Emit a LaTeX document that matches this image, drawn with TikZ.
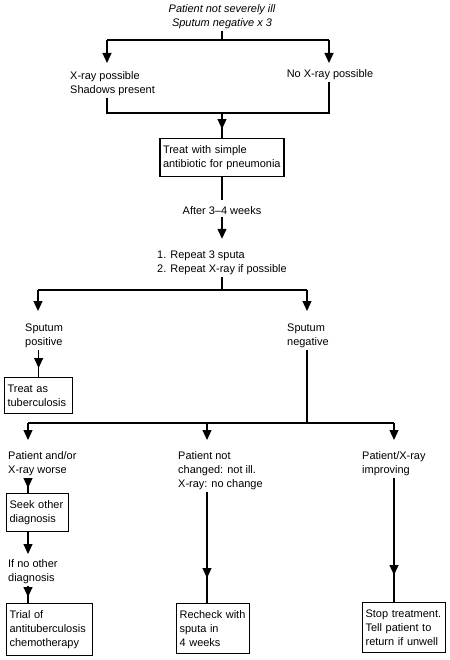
\documentclass[tikz,border=0pt]{standalone}
\usepackage{fontspec}
\setmainfont{Liberation Sans}
\usetikzlibrary{arrows.meta,positioning,calc,decorations.markings}
\tikzset{
  font=\fontsize{11}{14}\selectfont,
  lbl/.style={
    align=left,
    inner sep=2bp
  },
  box/.style={
    draw,
    line width=1.2bp,
    align=left,
    inner xsep=3bp,
    inner ysep=7bp
  },
  line/.style={line width=1.2bp},
  arrow/.style={line, -{Triangle[width=9bp,length=10bp]}},
  midarrow/.style={
    line,
    postaction={decorate},
    decoration={markings,
      mark=at position -#1 with {\arrow{Triangle[width=9bp,length=10bp]}}}
  }
}

\begin{document}
\begin{tikzpicture}[x=1bp, y=1bp]
\useasboundingbox (0,0) rectangle (450,-660);

% junctions of the tree
\coordinate (j1) at (222,-40);
\coordinate (j1l) at (107,-40);
\coordinate (j1r) at (329,-40);
\coordinate (j2) at (222,-113);
\coordinate (j2l) at (107,-113);
\coordinate (j2r) at (329,-113);
\coordinate (j3) at (222,-290);
\coordinate (j3l) at (38,-290);
\coordinate (j3r) at (307,-290);
\coordinate (j4) at (307,-423);
\coordinate (j4l) at (28,-423);
\coordinate (j4m) at (207,-423);
\coordinate (j4r) at (394,-423);

% first step
\node[lbl, align=center, font=\fontsize{11}{14}\selectfont\itshape, anchor=north] (start) at (222,-2) {Patient not severely ill\\Sputum negative x 3};
\node[lbl, anchor=north west] (xr) at (68,-69) {X-ray possible\\Shadows present};
\node[lbl, anchor=north] (nx) at (330,-67) {No X-ray possible};

\node[box, text width=118bp, below=25bp of j2] (treat) {Treat with simple\\antibiotic for pneumonia};
\node[lbl, below=27bp of treat] (after) {After 3--4 weeks};
\node[lbl, below=32bp of after] (rep) {1. Repeat 3 sputa\\2. Repeat X-ray if possible};

% sputum result
\node[lbl, anchor=north west] (spos) at (23,-322) {Sputum\\positive};
\node[lbl, anchor=north west] (sneg) at (285,-322) {Sputum\\negative};
\node[box, text width=62bp, anchor=north west] (tb) at (4,-377) {Treat as\\tuberculosis};

% negative sputum outcomes
\node[lbl, anchor=north west] (worse) at (6,-449) {Patient and/or\\X-ray worse};
\node[lbl, anchor=north west] (same) at (176,-449) {Patient not\\changed: not ill.\\X-ray: no change};
\node[lbl, anchor=north west] (impr) at (360,-449) {Patient/X-ray\\improving};

\node[box, text width=56bp, anchor=north west] (seek) at (6,-493) {Seek other\\diagnosis};
\node[lbl, anchor=north west] (noother) at (6,-557) {If no other\\diagnosis};
\node[box, text width=80bp, anchor=north west] (trial) at (6,-603) {Trial of\\antituberculosis\\chemotherapy};
\node[box, text width=67bp, anchor=north west] (recheck) at (176,-603) {Recheck with\\sputa in\\4 weeks};
\node[box, text width=77bp, anchor=north west] (stop) at (362,-602) {Stop treatment.\\Tell patient to\\return if unwell};

% Connections
\draw[line] (start) -- (j1);
\draw[line] (j1l) -- (j1r);
\draw[arrow, shorten >=6bp] (j1l) -- (j1l |- xr.north);
\draw[arrow, shorten >=4bp] (j1r) -- (j1r |- nx.north);
\draw[line] (j2l |- xr.south) -- (j2l) -- (j2r) -- (j2r |- nx.south);
\draw[midarrow=9bp] (j2) -- (treat);
\draw[line, shorten >=4bp] (treat) -- (after);
\draw[arrow, shorten >=10bp] (after) -- (rep);
\draw[line] (rep) -- (j3);

\draw[line] (j3l) -- (j3r);
\draw[arrow, shorten >=11bp] (j3l) -- (j3l |- spos.north);
\draw[arrow, shorten >=11bp] (j3r) -- (j3r |- sneg.north);
\draw[midarrow=9bp] (tb.north |- spos.south) -- (tb.north);

\draw[line] (j4 |- sneg.south) -- (j4);
\draw[line] (j4l) -- (j4r);
\draw[arrow, shorten >=9bp] (j4l) -- (j4l |- worse.north);
\draw[arrow, shorten >=9bp] (j4m) -- (j4m |- same.north);
\draw[arrow, shorten >=9bp] (j4r) -- (j4r |- impr.north);

\draw[midarrow=5bp] (j4l |- worse.south) -- (j4l |- seek.north);
\draw[arrow, shorten >=3bp] (j4l |- seek.south) -- (j4l |- noother.north);
\draw[midarrow=6bp] (j4l |- noother.south) -- (j4l |- trial.north);
\draw[midarrow=25bp] (j4m |- same.south) -- (j4m |- recheck.north);
\draw[midarrow=27bp] (j4r |- impr.south) -- (j4r |- stop.north);

\end{tikzpicture}
\end{document}
